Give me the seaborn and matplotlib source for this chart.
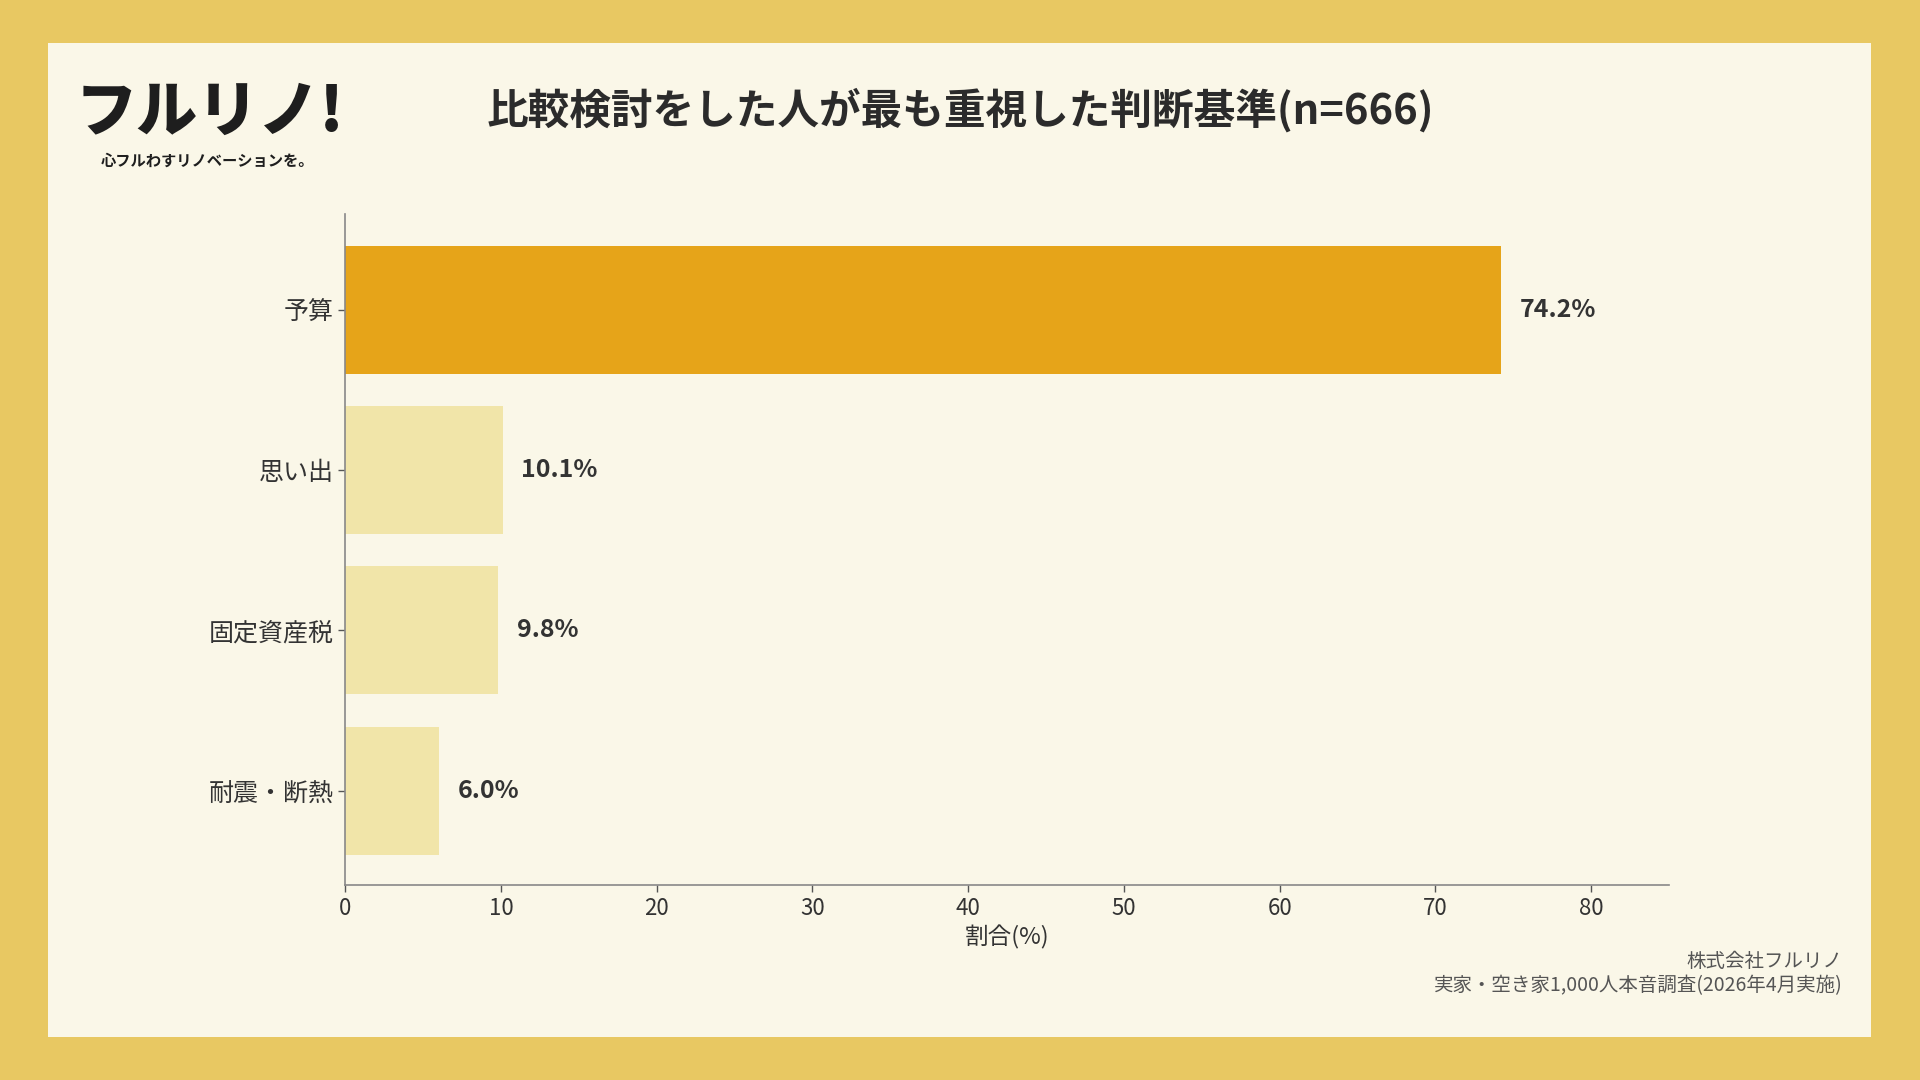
import matplotlib
matplotlib.use("Agg")
import matplotlib.pyplot as plt
import seaborn as sns
import pandas as pd
from matplotlib.patches import Rectangle

categories = ["予算", "思い出", "固定資産税", "耐震・断熱"]
values = [74.2, 10.1, 9.8, 6.0]
bar_colors = ["#E6A419", "#F1E5A9", "#F1E5A9", "#F1E5A9"]

sns.set_theme(style="white")
plt.rcParams["font.family"] = ["Noto Sans CJK JP", "DejaVu Sans"]

df = pd.DataFrame({"cat": categories, "val": values})

fig = plt.figure(figsize=(19.2, 10.8), dpi=100)
fig.patch.set_facecolor("#E8C862")
fig.add_artist(Rectangle((39 / 1568, 1 - 847 / 882), (1528 - 39) / 1568, (847 - 35) / 882,
                         transform=fig.transFigure, facecolor="#FAF7E8", edgecolor="none", zorder=0))

ax = fig.add_axes([0.1798, 0.1803, 0.6895, 0.6213])
ax.set_facecolor("none")
sns.barplot(data=df, x="val", y="cat", hue="cat", palette=bar_colors, legend=False,
            width=0.8, ax=ax, saturation=1, linewidth=0, edgecolor="none")
ax.set_xlim(0, 85)
ax.set_ylim(3.59, -0.595)
ax.set_xticks(range(0, 81, 10))
ax.set_xlabel("割合(%)", fontsize=17, color="#333333")
ax.set_ylabel("")
ax.tick_params(axis="x", labelsize=16, colors="#555555", length=5, width=1, bottom=True)
ax.tick_params(axis="y", labelsize=18, colors="#555555", length=5, width=1, left=True)
for lbl in ax.get_xticklabels() + ax.get_yticklabels():
    lbl.set_color("#333333")
for s in ["top", "right"]:
    ax.spines[s].set_visible(False)
for s in ["left", "bottom"]:
    ax.spines[s].set_color("#888888")
    ax.spines[s].set_linewidth(1.2)

for i, v in enumerate(values):
    ax.text(v + 1.2, i, f"{v:.1f}%", va="center", ha="left", fontsize=18,
            fontweight="bold", color="#333333")

fig.text(0.5, 1 - 90 / 882, "比較検討をした人が最も重視した判断基準(n=666)", ha="center", va="center",
         fontsize=30, fontweight="bold", color="#2b2b2b")

# logo
fig.text(62 / 1568, 1 - 92 / 882, "フルリノ!", ha="left", va="center", fontsize=44,
         fontweight="black", style="italic", color="#1e1e1e")
fig.text(82 / 1568, 1 - 131 / 882, "心フルわすリノベーションを。", ha="left", va="center",
         fontsize=11, fontweight="bold", color="#1e1e1e")

fig.text(1505 / 1568, 1 - 785 / 882, "株式会社フルリノ", ha="right", va="center", fontsize=14, color="#555555")
fig.text(1505 / 1568, 1 - 805 / 882, "実家・空き家1,000人本音調査(2026年4月実施)", ha="right", va="center",
         fontsize=14, color="#555555")

fig.savefig("out.png", dpi=100, facecolor=fig.get_facecolor())
